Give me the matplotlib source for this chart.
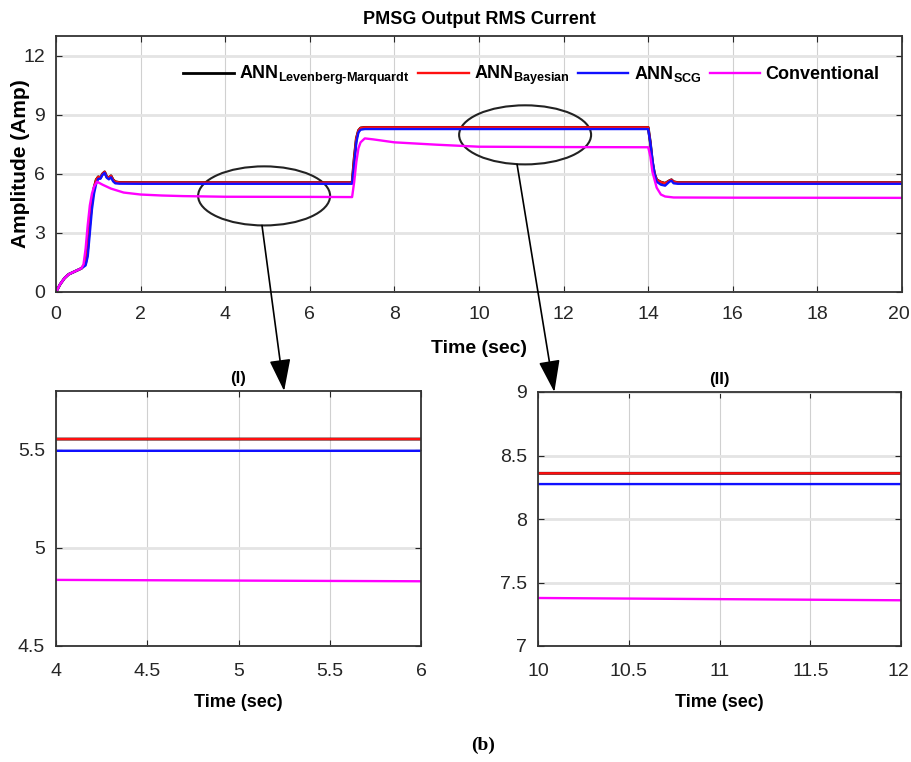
import numpy as np
import matplotlib.pyplot as plt
from matplotlib.patches import Ellipse, ConnectionPatch
from matplotlib.transforms import ScaledTranslation

plt.rcParams['font.family'] = ['Liberation Sans', 'DejaVu Sans']
plt.rcParams['mathtext.fontset'] = 'custom'
plt.rcParams['mathtext.rm'] = 'Liberation Sans:bold'
plt.rcParams['mathtext.bf'] = 'Liberation Sans:bold'
plt.rcParams['mathtext.default'] = 'rm'

# data (time in sec, current in Amp)
t_ann = [0, 0.1, 0.2, 0.3, 0.45, 0.6, 0.7, 0.75, 0.8, 0.85, 0.9, 0.95, 1.0, 1.05,
         1.1, 1.15, 1.2, 1.25, 1.3, 1.35, 1.4, 1.5, 2, 4, 6, 7.0, 7.05, 7.1, 7.15,
         7.2, 7.3, 10, 12, 14.0, 14.05, 14.1, 14.15, 14.2, 14.3, 14.4, 14.5, 14.55,
         14.6, 14.7, 16, 20]
i_lm = [0, 0.4, 0.7, 0.9, 1.05, 1.2, 1.45, 2.2, 3.5, 4.6, 5.3, 5.7, 5.85, 5.8,
        6.0, 6.1, 5.85, 5.8, 5.9, 5.7, 5.6, 5.56, 5.555, 5.555, 5.555, 5.555, 6.8,
        7.8, 8.2, 8.33, 8.36, 8.36, 8.36, 8.36, 7.6, 6.6, 6.0, 5.7, 5.58, 5.52, 5.65,
        5.7, 5.6, 5.555, 5.555, 5.555]
i_bayes = [0, 0.4, 0.7, 0.9, 1.05, 1.2, 1.45, 2.2, 3.5, 4.6, 5.3, 5.7, 5.85, 5.8,
           6.0, 6.1, 5.85, 5.8, 5.9, 5.7, 5.6, 5.56, 5.555, 5.555, 5.555, 5.555,
           6.8, 7.8, 8.2, 8.33, 8.36, 8.36, 8.36, 8.36, 7.6, 6.6, 6.0, 5.7, 5.58,
           5.52, 5.65, 5.7, 5.6, 5.555, 5.555, 5.555]
i_scg = [0, 0.4, 0.7, 0.9, 1.05, 1.2, 1.35, 1.8, 3.0, 4.2, 5.0, 5.5, 5.75, 5.75,
         5.95, 6.05, 5.8, 5.72, 5.82, 5.62, 5.52, 5.5, 5.495, 5.495, 5.495, 5.495,
         6.5, 7.6, 8.1, 8.24, 8.275, 8.275, 8.275, 8.275, 7.6, 6.7, 6.0, 5.6, 5.45,
         5.4, 5.6, 5.65, 5.52, 5.495, 5.495, 5.495]

t_conv = [0, 0.1, 0.2, 0.3, 0.45, 0.6, 0.65, 0.7, 0.75, 0.8, 0.85, 0.9, 0.97, 1.1,
          1.3, 1.6, 2.0, 2.5, 3.0, 4, 6, 7.0, 7.05, 7.1, 7.15, 7.2, 7.3, 7.5, 8, 9,
          10, 12, 14.0, 14.05, 14.1, 14.2, 14.3, 14.4, 14.6, 16, 20]
i_conv = [0, 0.4, 0.7, 0.9, 1.05, 1.2, 1.4, 2.2, 3.4, 4.4, 5.0, 5.35, 5.6, 5.45,
          5.25, 5.05, 4.95, 4.9, 4.87, 4.837, 4.83, 4.82, 5.6, 6.6, 7.3, 7.6, 7.8,
          7.75, 7.6, 7.48, 7.378, 7.36, 7.35, 6.9, 6.1, 5.3, 4.95, 4.85, 4.8, 4.79,
          4.78]

series = [
    (t_ann, i_lm, 'black', r'ANN$_{\text{Levenberg-Marquardt}}$'),
    (t_ann, i_bayes, '#ff1010', r'ANN$_{\text{Bayesian}}$'),
    (t_ann, i_scg, '#1010ff', r'ANN$_{\text{SCG}}$'),
    (t_conv, i_conv, '#ff00ff', 'Conventional'),
]

fig = plt.figure(figsize=(9.11, 7.62), dpi=100)
W, H = 911, 762


def box(l, t, r, b):
    return [l / W, 1 - b / H, (r - l) / W, (b - t) / H]


ax = fig.add_axes(box(56, 36, 902, 292))
ax1 = fig.add_axes(box(56, 391, 421, 646))
ax2 = fig.add_axes(box(538, 392, 901, 646))

for a in (ax, ax1, ax2):
    for t, v, c, lab in series:
        lw = 2.0 if c == 'black' else 1.7
        a.plot(t, v, color=c, lw=lw, label=lab)
    a.grid(axis='x', color='#d0d0d0', lw=0.8)
    a.grid(axis='y', color='#e4e4e4', lw=2)
    a.set_axisbelow(True)
    a.tick_params(direction='in', top=True, right=True, length=4,
                  labelsize=14, colors='#262626', pad=8)
    for s in a.spines.values():
        s.set_color('#333333')
        s.set_linewidth(1.3)

ax.set_xlim(0, 20)
ax.set_ylim(0, 13)
ax.set_xticks(np.arange(0, 21, 2))
ax.set_yticks([0, 3, 6, 9, 12])
ax.tick_params(axis='x', pad=10)
ax.set_title('PMSG Output RMS Current', fontsize=13, fontweight='bold', pad=9)
ax.set_xlabel('Time (sec)', fontsize=14, fontweight='bold', labelpad=12)
ax.set_ylabel('Amplitude (Amp)', fontsize=15, fontweight='bold')
ax.yaxis.set_label_coords(-0.031, 0.5)
ax.legend(ncol=4, loc='center', bbox_to_anchor=(0.562, 0.845), frameon=False,
          handlelength=2.8, handletextpad=0.3, columnspacing=0.45,
          prop={'weight': 'bold', 'size': 13})

ax1.set_xlim(4, 6)
ax1.set_ylim(4.5, 5.8)
ax1.set_xticks([4, 4.5, 5, 5.5, 6])
ax1.set_xticklabels(['4', '4.5', '5', '5.5', '6'])
ax1.set_yticks([4.5, 5, 5.5])
ax1.set_yticklabels(['4.5', '5', '5.5'])
ax1.tick_params(axis='x', pad=12)
ax1.set_title('(I)', fontsize=12, fontweight='bold', pad=6)
ax1.set_xlabel('Time (sec)', fontsize=13, fontweight='bold', labelpad=10)

ax2.set_xlim(10, 12)
ax2.set_ylim(7, 9)
ax2.set_xticks([10, 10.5, 11, 11.5, 12])
ax2.set_xticklabels(['10', '10.5', '11', '11.5', '12'])
ax2.set_yticks([7, 7.5, 8, 8.5, 9])
ax2.set_yticklabels(['7', '7.5', '8', '8.5', '9'])
ax2.tick_params(axis='x', pad=12)
ax2.set_title('(II)', fontsize=12, fontweight='bold', pad=6)
ax2.set_xlabel('Time (sec)', fontsize=13, fontweight='bold', labelpad=10)

# keep the last x tick label inside the figure edge
for a in (ax, ax2):
    lab = a.get_xticklabels()[-1]
    lab.set_transform(lab.get_transform() +
                      ScaledTranslation(-3 / 100, 0, fig.dpi_scale_trans))

# zoom ellipses and arrows
ax.add_patch(Ellipse((4.92, 4.88), 3.12, 3.0, fill=False, ec='#222222', lw=1.5))
ax.add_patch(Ellipse((11.09, 7.98), 3.12, 3.0, fill=False, ec='#222222', lw=1.5))

for xyA, xyB, axB in [((4.87, 3.38), (5.25, 5.8), ax1),
                      ((10.9, 6.48), (10.09, 9.0), ax2)]:
    con = ConnectionPatch(xyA=xyA, coordsA=ax.transData, xyB=xyB,
                          coordsB=axB.transData,
                          arrowstyle='-|>,head_length=0.9,head_width=0.3',
                          mutation_scale=22, color='black', lw=1.2)
    fig.add_artist(con)

fig.text(483 / W, 1 - 745 / H, '(b)', fontsize=14, fontweight='bold',
         family='Liberation Serif', ha='center', va='center')

plt.savefig('out.png', dpi=100)
